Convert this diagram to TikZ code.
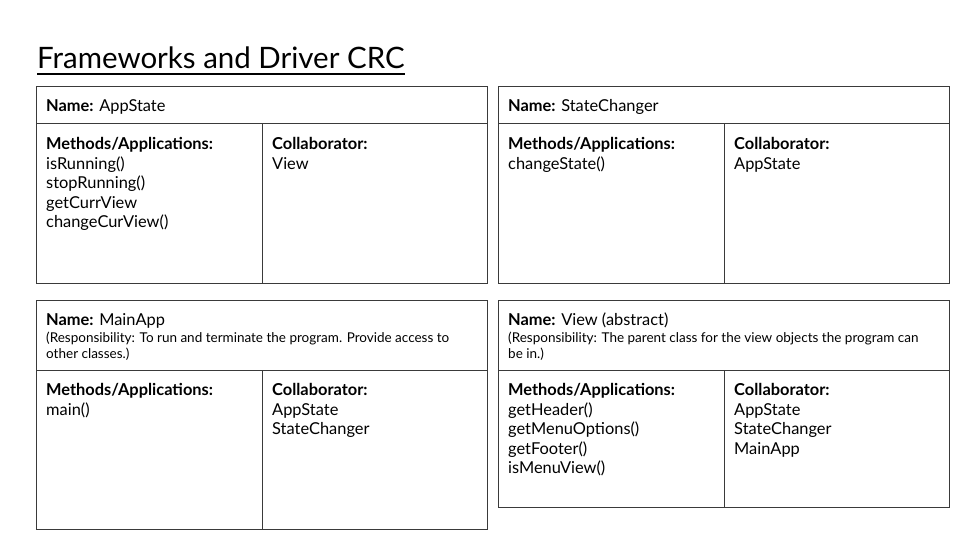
\documentclass[tikz,border=0pt]{standalone}
\usepackage{fontspec}
\setmainfont{Lato}
\usetikzlibrary{positioning}
\definecolor{cardgray}{HTML}{3A3A3A}
\tikzset{
  cardline/.style={draw=cardgray, line width=1pt},
  cardtext/.style={anchor=north west, yshift=13.65pt, inner sep=0pt, align=left, execute at begin node=\strut, font=\fontsize{16.4}{19.5}\selectfont},
  cardnote/.style={anchor=north west, yshift=11.2pt, inner sep=0pt, align=left, execute at begin node=\strut, font=\fontsize{13.5}{16}\selectfont},
}
\begin{document}
\begin{tikzpicture}[x=1pt, y=-1pt]
\useasboundingbox (0,0) rectangle (960,540);
% card frames: left x / top y / height / name row height
\foreach \x/\y/\h/\n in {36/87/196/37, 498/87/196/37, 36/300/229/70, 498/300/207/70}
{
	\draw[cardline] (\x,\y) rectangle (\x+451,\y+\h);
	\draw[cardline] (\x,\y+\n) -- (\x+451,\y+\n);
	\draw[cardline] (\x+226,\y+\n) -- (\x+226,\y+\h);
}
\node[anchor=base west, inner sep=0pt, font=\fontsize{29.5}{34}\selectfont] (title) at (37,69) {Frameworks and Driver CRC};
\draw[line width=1.6pt] ([yshift=-5pt]title.base west) -- ([yshift=-5pt]title.base east);

% AppState
\node[cardtext] (appName) at (46,111) {\textbf{Name:} AppState};
\node[cardtext] (appMeth) at (46,151) {\textbf{Methods/Applications:}\\isRunning()\\stopRunning()\\getCurrView\\changeCurView()};
\node[cardtext] (appColl) at (272,151) {\textbf{Collaborator:}\\View};

% StateChanger
\node[cardtext] (scName) at (508,111) {\textbf{Name:} StateChanger};
\node[cardtext] (scMeth) at (508,151) {\textbf{Methods/Applications:}\\changeState()};
\node[cardtext] (scColl) at (734,151) {\textbf{Collaborator:}\\AppState};

% MainApp
\node[cardtext] (mainName) at (46,325) {\textbf{Name:} MainApp};
\node[cardnote] (mainResp) at (46,343) {(Responsibility: To run and terminate the program. Provide access to\\other classes.)};
\node[cardtext] (mainMeth) at (46,397) {\textbf{Methods/Applications:}\\main()};
\node[cardtext] (mainColl) at (272,397) {\textbf{Collaborator:}\\AppState\\StateChanger};

% View
\node[cardtext] (viewName) at (508,325) {\textbf{Name:} View (abstract)};
\node[cardnote] (viewResp) at (508,343) {(Responsibility: The parent class for the view objects the program can\\be in.)};
\node[cardtext] (viewMeth) at (508,397) {\textbf{Methods/Applications:}\\getHeader()\\getMenuOptions()\\getFooter()\\isMenuView()};
\node[cardtext] (viewColl) at (734,397) {\textbf{Collaborator:}\\AppState\\StateChanger\\MainApp};
\end{tikzpicture}
\end{document}
